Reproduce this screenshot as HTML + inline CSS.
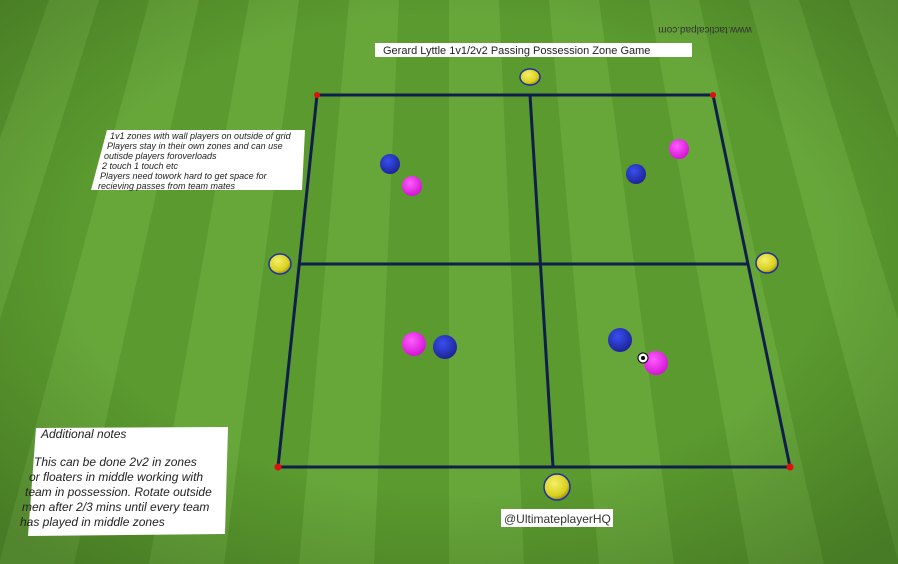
<!DOCTYPE html>
<html><head><meta charset="utf-8"><style>
html,body{margin:0;padding:0;width:898px;height:564px;overflow:hidden}
svg{display:block}
text{font-family:"Liberation Sans",sans-serif}
</style></head><body>
<svg width="898" height="564" viewBox="0 0 898 564" xmlns="http://www.w3.org/2000/svg">
<defs>
<radialGradient id="vig" cx="50%" cy="45%" r="70%">
<stop offset="0.6" stop-color="#000" stop-opacity="0"/>
<stop offset="1" stop-color="#000" stop-opacity="0.2"/>
</radialGradient>
<radialGradient id="yel" cx="40%" cy="35%" r="70%"><stop offset="0" stop-color="#f4f06a"/><stop offset="0.7" stop-color="#d9cf1c"/><stop offset="1" stop-color="#8a8210"/></radialGradient>
<radialGradient id="blu" cx="40%" cy="35%" r="70%"><stop offset="0" stop-color="#3a4ef0"/><stop offset="1" stop-color="#1a2290"/></radialGradient>
<radialGradient id="pnk" cx="40%" cy="35%" r="70%"><stop offset="0" stop-color="#ff5cff"/><stop offset="1" stop-color="#d010d0"/></radialGradient>
</defs>
<rect width="898" height="564" fill="#5a9a2e"/>
<g fill="#67a73a">
<polygon points="-51,0 -1,0 -226,564 -301,564"/>
<polygon points="49,0 99,0 -76,564 -151,564"/>
<polygon points="149,0 199,0 74,564 -1,564"/>
<polygon points="249,0 299,0 224,564 149,564"/>
<polygon points="349,0 399,0 374,564 299,564"/>
<polygon points="449,0 499,0 524,564 449,564"/>
<polygon points="549,0 599,0 674,564 599,564"/>
<polygon points="649,0 699,0 824,564 749,564"/>
<polygon points="749,0 799,0 974,564 899,564"/>
<polygon points="849,0 899,0 1124,564 1049,564"/>
</g>
<rect width="898" height="564" fill="url(#vig)"/>
<text x="705" y="33" font-size="10" fill="#333" transform="rotate(180 705 30)" text-anchor="middle">www.tacticalpad.com</text>
<g stroke="#0f1f4a" stroke-width="3" fill="none">
<polygon points="317,95 713,95 790,467 278,467"/>
<line x1="299" y1="264" x2="748" y2="264"/>
<line x1="530" y1="95" x2="553" y2="467"/>
</g>
<g fill="#e01010">
<circle cx="317" cy="95" r="3"/><circle cx="713" cy="95" r="3"/><circle cx="790" cy="467" r="3.5"/><circle cx="278" cy="467" r="3.5"/>
</g>
<rect x="375" y="43" width="317" height="14" fill="#fff"/>
<text x="383" y="54" font-size="11" fill="#222">Gerard Lyttle 1v1/2v2 Passing Possession Zone Game</text>
<polygon points="107,130 305,130 302,190 91,190" fill="#fff"/>
<g font-size="9" font-style="italic" fill="#222">
<text x="110" y="139">1v1 zones with wall players on outside of grid</text>
<text x="107" y="149">Players stay in their own zones and can use</text>
<text x="104" y="159">outisde players foroverloads</text>
<text x="102" y="169">2 touch 1 touch etc</text>
<text x="100" y="179">Players need towork hard to get space for</text>
<text x="98" y="189">recieving passes from team mates</text>
</g>
<polygon points="36,428 228,427 225,534 28,536" fill="#fff"/>
<g font-size="12" font-style="italic" fill="#222">
<text x="41" y="438">Additional notes</text>
<text x="34" y="466">This can be done 2v2 in zones</text>
<text x="29" y="481">or floaters in middle working with</text>
<text x="25" y="496">team in possession. Rotate outside</text>
<text x="22" y="511">men after 2/3 mins until every team</text>
<text x="20" y="526">has played in middle zones</text>
</g>
<rect x="501" y="509" width="112" height="18" fill="#fff"/>
<text x="504" y="523" font-size="12" fill="#333">@UltimateplayerHQ</text>
<g stroke="#2030a0" stroke-width="1.5">
<ellipse cx="530" cy="77" rx="10" ry="8" fill="url(#yel)"/>
<ellipse cx="280" cy="264" rx="11" ry="10" fill="url(#yel)"/>
<ellipse cx="767" cy="263" rx="11" ry="10" fill="url(#yel)"/>
<ellipse cx="557" cy="487" rx="13" ry="13" fill="url(#yel)"/>
</g>
<g>
<circle cx="390" cy="164" r="10" fill="url(#blu)"/>
<circle cx="636" cy="174" r="10" fill="url(#blu)"/>
<circle cx="445" cy="347" r="12" fill="url(#blu)"/>
<circle cx="620" cy="340" r="12" fill="url(#blu)"/>
<circle cx="412" cy="186" r="10" fill="url(#pnk)"/>
<circle cx="679" cy="149" r="10" fill="url(#pnk)"/>
<circle cx="414" cy="344" r="12" fill="url(#pnk)"/>
<circle cx="656" cy="363" r="12" fill="url(#pnk)"/>
</g>
<circle cx="643" cy="358" r="5" fill="#fff" stroke="#000" stroke-width="1"/>
<circle cx="643" cy="358" r="2" fill="#000"/>
</svg>
</body></html>
